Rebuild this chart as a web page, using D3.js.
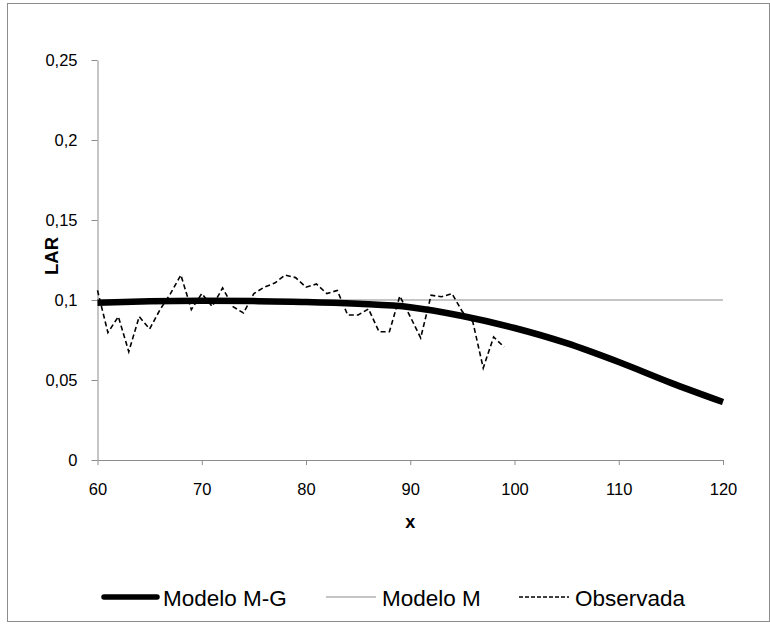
<!DOCTYPE html>
<html>
<head>
<meta charset="utf-8">
<script src="https://cdn.jsdelivr.net/npm/d3@7"></script>
<style>
  html, body { margin: 0; padding: 0; background: #fff; }
  svg { display: block; }
  text { font-family: "Liberation Sans", Arial, sans-serif; fill: #000; }
</style>
</head>
<body>
<svg id="chart" width="770" height="625"></svg>
<script>
// Edad (x) de la serie observada
const obsAges = [60, 61, 62, 63, 64, 65, 66, 67, 68, 69,
                 70, 71, 72, 73, 74, 75, 76, 77, 78, 79,
                 80, 81, 82, 83, 84, 85, 86, 87, 88, 89,
                 90, 91, 92, 93, 94, 95, 96, 97, 98, 99];
// LAR observada
const obsLAR = [0.106, 0.0796, 0.0896, 0.0677, 0.0896, 0.0819, 0.094, 0.104, 0.1156, 0.094,
                0.104, 0.096, 0.1075, 0.0958, 0.0919, 0.104, 0.108, 0.1106, 0.1156, 0.114,
                0.108, 0.110, 0.104, 0.106, 0.0906, 0.0906, 0.0944, 0.0802, 0.0802, 0.1025,
                0.0896, 0.0763, 0.103, 0.102, 0.104, 0.0927, 0.0864, 0.0575, 0.0769, 0.0706];

// Modelo M-G (Makeham-Gompertz)
const mgAges = [60, 65, 70, 75, 80, 85, 90, 95, 100, 105, 110, 115, 120];
const mgLAR  = [0.0983, 0.0992, 0.0995, 0.0993, 0.0988, 0.0976, 0.0955, 0.0900, 0.0825, 0.0730, 0.0612, 0.0482, 0.0362];

// Modelo M (constante)
const mAges = [60, 120];
const mLAR  = [0.1, 0.1];

const xTicks = [60, 70, 80, 90, 100, 110, 120];
const yTicks = [0, 0.05, 0.1, 0.15, 0.2, 0.25];

const seriesNames = ["Modelo M-G", "Modelo M", "Observada"];

const svg = d3.select("#chart");

// marco exterior
svg.append("rect")
  .attr("x", 7.5).attr("y", 3.5)
  .attr("width", 762).attr("height", 618)
  .attr("fill", "none").attr("stroke", "#8c8c8c").attr("stroke-width", 1);

const x = d3.scaleLinear().domain([60, 120]).range([97.5, 723]);
const y = d3.scaleLinear().domain([0, 0.25]).range([460, 60]);

const fmt = d => d3.format("")(d).replace(".", ",");

// eje X
const gx = svg.append("g")
  .attr("transform", `translate(0,${y(0)})`)
  .call(d3.axisBottom(x).tickValues(xTicks).tickSize(5).tickSizeOuter(0).tickPadding(18).tickFormat(d => d));
// eje Y
const gy = svg.append("g")
  .attr("transform", `translate(${x(60)},0)`)
  .call(d3.axisLeft(y).tickValues(yTicks).tickSize(6).tickSizeOuter(0).tickPadding(14).tickFormat(fmt));

[gx, gy].forEach(g => {
  g.select(".domain").attr("stroke", "#8c8c8c");
  g.selectAll(".tick line").attr("stroke", "#8c8c8c");
  g.selectAll(".tick text").attr("font-size", 16.5).attr("font-family", "Liberation Sans, Arial, sans-serif").attr("fill", "#000");
});

// títulos de ejes
svg.append("text")
  .attr("x", x(90)).attr("y", 528)
  .attr("text-anchor", "middle")
  .attr("font-size", 18).attr("font-weight", "bold")
  .text("x");
svg.append("text")
  .attr("transform", `translate(58,256) rotate(-90)`)
  .attr("text-anchor", "middle")
  .attr("font-size", 18.5).attr("font-weight", "bold")
  .text("LAR");

const line = d3.line().x(d => x(d[0])).y(d => y(d[1]));

// Modelo M
svg.append("path")
  .datum(d3.zip(mAges, mLAR))
  .attr("d", line)
  .attr("fill", "none").attr("stroke", "#8c8c8c").attr("stroke-width", 1.2);

// Observada
svg.append("path")
  .datum(d3.zip(obsAges, obsLAR))
  .attr("d", line)
  .attr("fill", "none").attr("stroke", "#000").attr("stroke-width", 1.6)
  .attr("stroke-dasharray", "5,3");

// Modelo M-G
svg.append("path")
  .datum(d3.zip(mgAges, mgLAR))
  .attr("d", line.curve(d3.curveMonotoneX))
  .attr("fill", "none").attr("stroke", "#000").attr("stroke-width", 6.5);

// leyenda
const legendItems = [
  { name: seriesNames[0], x0: 104, x1: 157, tx: 163, width: 5.5, dash: null, color: "#000" },
  { name: seriesNames[1], x0: 326, x1: 376, tx: 382, width: 1.2, dash: null, color: "#8c8c8c" },
  { name: seriesNames[2], x0: 519, x1: 569, tx: 575, width: 1.6, dash: "4,2", color: "#000" }
];
const ly = 597;
const lg = svg.append("g");
legendItems.forEach(it => {
  lg.append("line")
    .attr("x1", it.x0).attr("x2", it.x1)
    .attr("y1", ly).attr("y2", ly)
    .attr("stroke", it.color).attr("stroke-width", it.width)
    .attr("stroke-linecap", it.width > 3 ? "round" : "butt")
    .attr("stroke-dasharray", it.dash);
  lg.append("text")
    .attr("x", it.tx).attr("y", ly + 9)
    .attr("font-size", 22.5)
    .text(it.name);
});
</script>
</body>
</html>
